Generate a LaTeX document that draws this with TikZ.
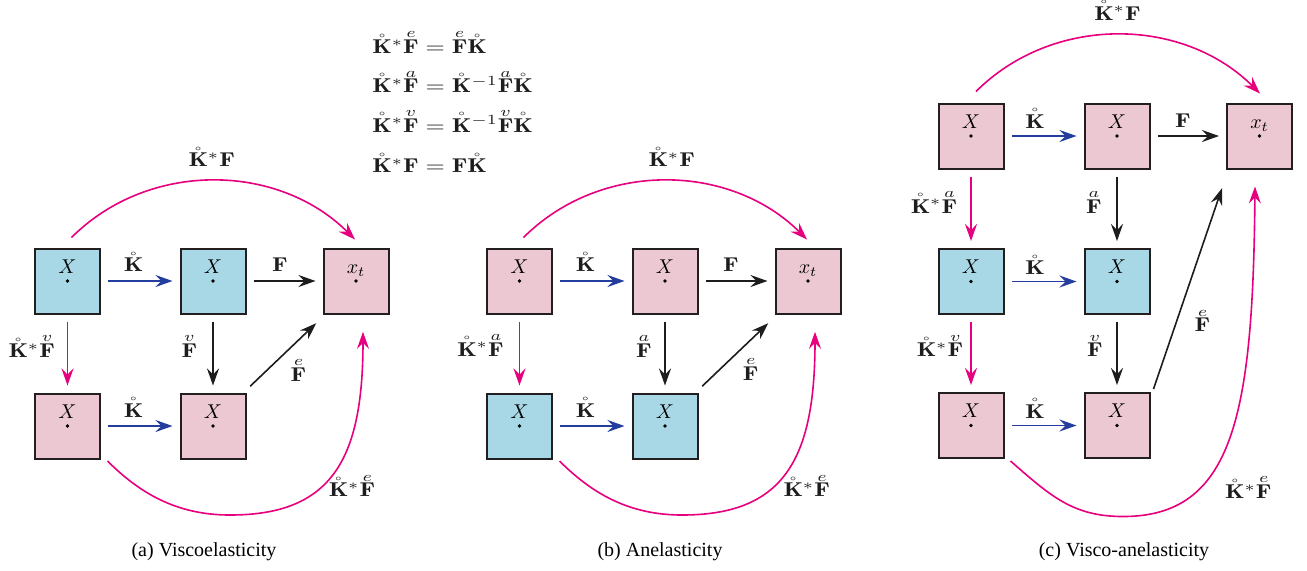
\documentclass[tikz,border=0pt]{standalone}
\usepackage{amsmath}
\usepackage{graphicx}
\usepackage{fontspec}
\newfontfamily\capfont{Liberation Serif}
\usetikzlibrary{arrows.meta,calc}
\definecolor{boxblue}{RGB}{168,216,229}
\definecolor{boxpink}{RGB}{236,200,211}
\definecolor{boxline}{RGB}{35,31,32}
\definecolor{magarr}{RGB}{230,0,126}
\definecolor{darr}{RGB}{30,28,30}
\definecolor{barr}{RGB}{36,62,158}
\newcommand\Kr{\mathring{\mathbf{K}}}
\newcommand\Fo[1]{\mbox{\ooalign{$\mathbf{F}$\cr\hidewidth\raisebox{7.8pt}{$\scriptstyle #1$}\hidewidth\cr}}}
\newcommand\Lb[1]{\scalebox{1.24}[1]{$#1$}}
\newcommand\mycell[5]{%
  \node[#4] (#1) at (#2,#3) {};
  \fill[black] (#1.center) circle (0.9pt);
  \node[anchor=base, inner sep=0pt] (#1t) at ([yshift=3.85pt]#1.center) {$#5$};}
\begin{document}
\begin{tikzpicture}[x=0.5pt,y=-0.5pt,
  bx/.style={draw=boxline, line width=1pt, minimum size=32.5pt, inner sep=0pt},
  bb/.style={bx, fill=boxblue},
  pb/.style={bx, fill=boxpink},
  ar/.style={line width=0.8pt, -{Stealth[length=8.5pt,width=6pt,inset=3pt]}},
  blk/.style={ar, draw=darr},
  blu/.style={ar, draw=barr},
  mag/.style={ar, draw=magarr},
  sh/.style={shorten <=3.5pt, shorten >=3.5pt},
  lbl/.style={anchor=base, inner sep=0pt, text=darr},
  eqn/.style={anchor=base west, inner sep=0pt, text=darr},
  captxt/.style={anchor=base, inner sep=0pt, font=\capfont}]
\useasboundingbox (0,0) rectangle (1307,570);

% ---------- equations ----------
\node[eqn] (eq1) at (372,53.3) {\Lb{\Kr^*\Fo{e} = \Fo{e}\Kr}};
\node[eqn] (eq2) at (372,92.7) {\Lb{\Kr^*\Fo{a} = \Kr^{-1}\Fo{a}\Kr}};
\node[eqn] (eq3) at (372,132) {\Lb{\Kr^*\Fo{v} = \Kr^{-1}\Fo{v}\Kr}};
\node[eqn] (eq4) at (372,172.5) {\Lb{\Kr^*\mathbf{F} = \mathbf{F}\Kr}};

% ---------- (a) ----------
\mycell{a1}{67.5}{281}{bb}{X}
\mycell{a2}{213}{281}{bb}{X}
\mycell{a3}{356}{281}{pb}{x_t}
\mycell{a4}{67.5}{426}{pb}{X}
\mycell{a5}{213}{426}{pb}{X}
\draw[blu,sh] (a1) -- (a2);
\draw[blk,sh] (a2) -- (a3);
\draw[mag,sh] (a1) -- (a4);
\draw[blk,sh] (a2) -- (a5);
\draw[blu,sh] (a4) -- (a5);
\draw[blk] ([shift={(3.7,-6.3)}]a5.north east) -- ([shift={(-6.3,8.7)}]a3.south west);
\draw[mag] ([shift={(4,-10)}]a1.north) .. controls +(77,-77) and +(-77,-77) .. ([shift={(-1,-8)}]a3.north);
\draw[mag] ([shift={(6.5,1.5)}]a4.south east) .. controls +(35,35) and +(-50,0) .. ([shift={(17,55.5)}]a5.south)
  .. controls +(100,0) and +(0,130) .. ([shift={(7,17.3)}]a3.south);
\node[lbl] (la12) at (133.5,271.7) {\Lb{\Kr}};
\node[lbl] (la23) at (280,271) {\Lb{\mathbf{F}}};
\node[lbl] (la14) at (31.7,357.5) {\Lb{\Kr^*\Fo{v}}};
\node[lbl] (la25) at (189.5,357) {\Lb{\Fo{v}}};
\node[lbl] (la45) at (133.5,417) {\Lb{\Kr}};
\node[lbl] (la53) at (298.5,381) {\Lb{\Fo{e}}};
\node[lbl] (latop) at (211.7,166.7) {\Lb{\Kr^*\mathbf{F}}};
\node[lbl] (labot) at (352,496.7) {\Lb{\Kr^*\Fo{e}}};
\node[captxt] (capa) at (204,556.5) {(a) Viscoelasticity};

% ---------- (b) ----------
\mycell{b1}{519.5}{281}{pb}{X}
\mycell{b2}{665}{281}{pb}{X}
\mycell{b3}{808}{281}{pb}{x_t}
\mycell{b4}{519.5}{426}{bb}{X}
\mycell{b5}{665}{426}{bb}{X}
\draw[blu,sh] (b1) -- (b2);
\draw[blk,sh] (b2) -- (b3);
\draw[mag,sh] (b1) -- (b4);
\draw[blk,sh] (b2) -- (b5);
\draw[blu,sh] (b4) -- (b5);
\draw[blk] ([shift={(3.7,-6.3)}]b5.north east) -- ([shift={(-6.3,8.7)}]b3.south west);
\draw[mag] ([shift={(4,-10)}]b1.north) .. controls +(77,-77) and +(-77,-77) .. ([shift={(-1,-8)}]b3.north);
\draw[mag] ([shift={(6.5,1.5)}]b4.south east) .. controls +(35,35) and +(-50,0) .. ([shift={(17,55.5)}]b5.south)
  .. controls +(100,0) and +(0,130) .. ([shift={(7,17.3)}]b3.south);
\node[lbl] (lb12) at (585.5,271.7) {\Lb{\Kr}};
\node[lbl] (lb23) at (731,271) {\Lb{\mathbf{F}}};
\node[lbl] (lb14) at (480.5,356) {\Lb{\Kr^*\Fo{a}}};
\node[lbl] (lb25) at (644,357) {\Lb{\Fo{a}}};
\node[lbl] (lb45) at (585.5,417) {\Lb{\Kr}};
\node[lbl] (lb53) at (750.7,380.5) {\Lb{\Fo{e}}};
\node[lbl] (lbtop) at (671.7,166.7) {\Lb{\Kr^*\mathbf{F}}};
\node[lbl] (lbbot) at (806.7,496.7) {\Lb{\Kr^*\Fo{e}}};
\node[captxt] (capb) at (660,556.5) {(b) Anelasticity};

% ---------- (c) ----------
\mycell{c1}{971}{136}{pb}{X}
\mycell{c2}{1117}{136}{pb}{X}
\mycell{c3}{1259.5}{136}{pb}{x_t}
\mycell{c4}{971}{281.5}{bb}{X}
\mycell{c5}{1117}{281.5}{bb}{X}
\mycell{c6}{971}{425.5}{pb}{X}
\mycell{c7}{1117}{425.5}{pb}{X}
\draw[blu,sh] (c1) -- (c2);
\draw[blk,sh] (c2) -- (c3);
\draw[mag,sh] (c1) -- (c4);
\draw[blk,sh] (c2) -- (c5);
\draw[blu,sh] (c4) -- (c5);
\draw[mag,sh] (c4) -- (c6);
\draw[blk,sh] (c5) -- (c7);
\draw[blu,sh] (c6) -- (c7);
\draw[blk] ([shift={(3,-3)}]c7.north east) -- ([shift={(-4,18.7)}]c3.south west);
\draw[mag] ([shift={(5,-11)}]c1.north) .. controls +(77,-77) and +(-77,-77) .. ([shift={(0.5,-9)}]c3.north);
\draw[mag] ([shift={(6,2)}]c6.south east) .. controls +(40,35) and +(-50,0) .. ([shift={(6,57.5)}]c7.south)
  .. controls +(110,0) and +(-2,230) .. ([shift={(-4.5,17)}]c3.south);
\node[lbl] (lc12) at (1035,128) {\Lb{\Kr}};
\node[lbl] (lc23) at (1183,127) {\Lb{\mathbf{F}}};
\node[lbl] (lc14) at (934,213) {\Lb{\Kr^*\Fo{a}}};
\node[lbl] (lc25) at (1094,213) {\Lb{\Fo{a}}};
\node[lbl] (lc45) at (1035,274.5) {\Lb{\Kr}};
\node[lbl] (lc46) at (940,356.7) {\Lb{\Kr^*\Fo{v}}};
\node[lbl] (lc57) at (1095,356.7) {\Lb{\Fo{v}}};
\node[lbl] (lc67) at (1035,418) {\Lb{\Kr}};
\node[lbl] (lc73) at (1202.5,331.7) {\Lb{\Fo{e}}};
\node[lbl] (lctop) at (1117.5,20) {\Lb{\Kr^*\mathbf{F}}};
\node[lbl] (lcbot) at (1248.3,498.3) {\Lb{\Kr^*\Fo{e}}};
\node[captxt] (capc) at (1124,556.5) {(c) Visco-anelasticity};
\end{tikzpicture}
\end{document}
